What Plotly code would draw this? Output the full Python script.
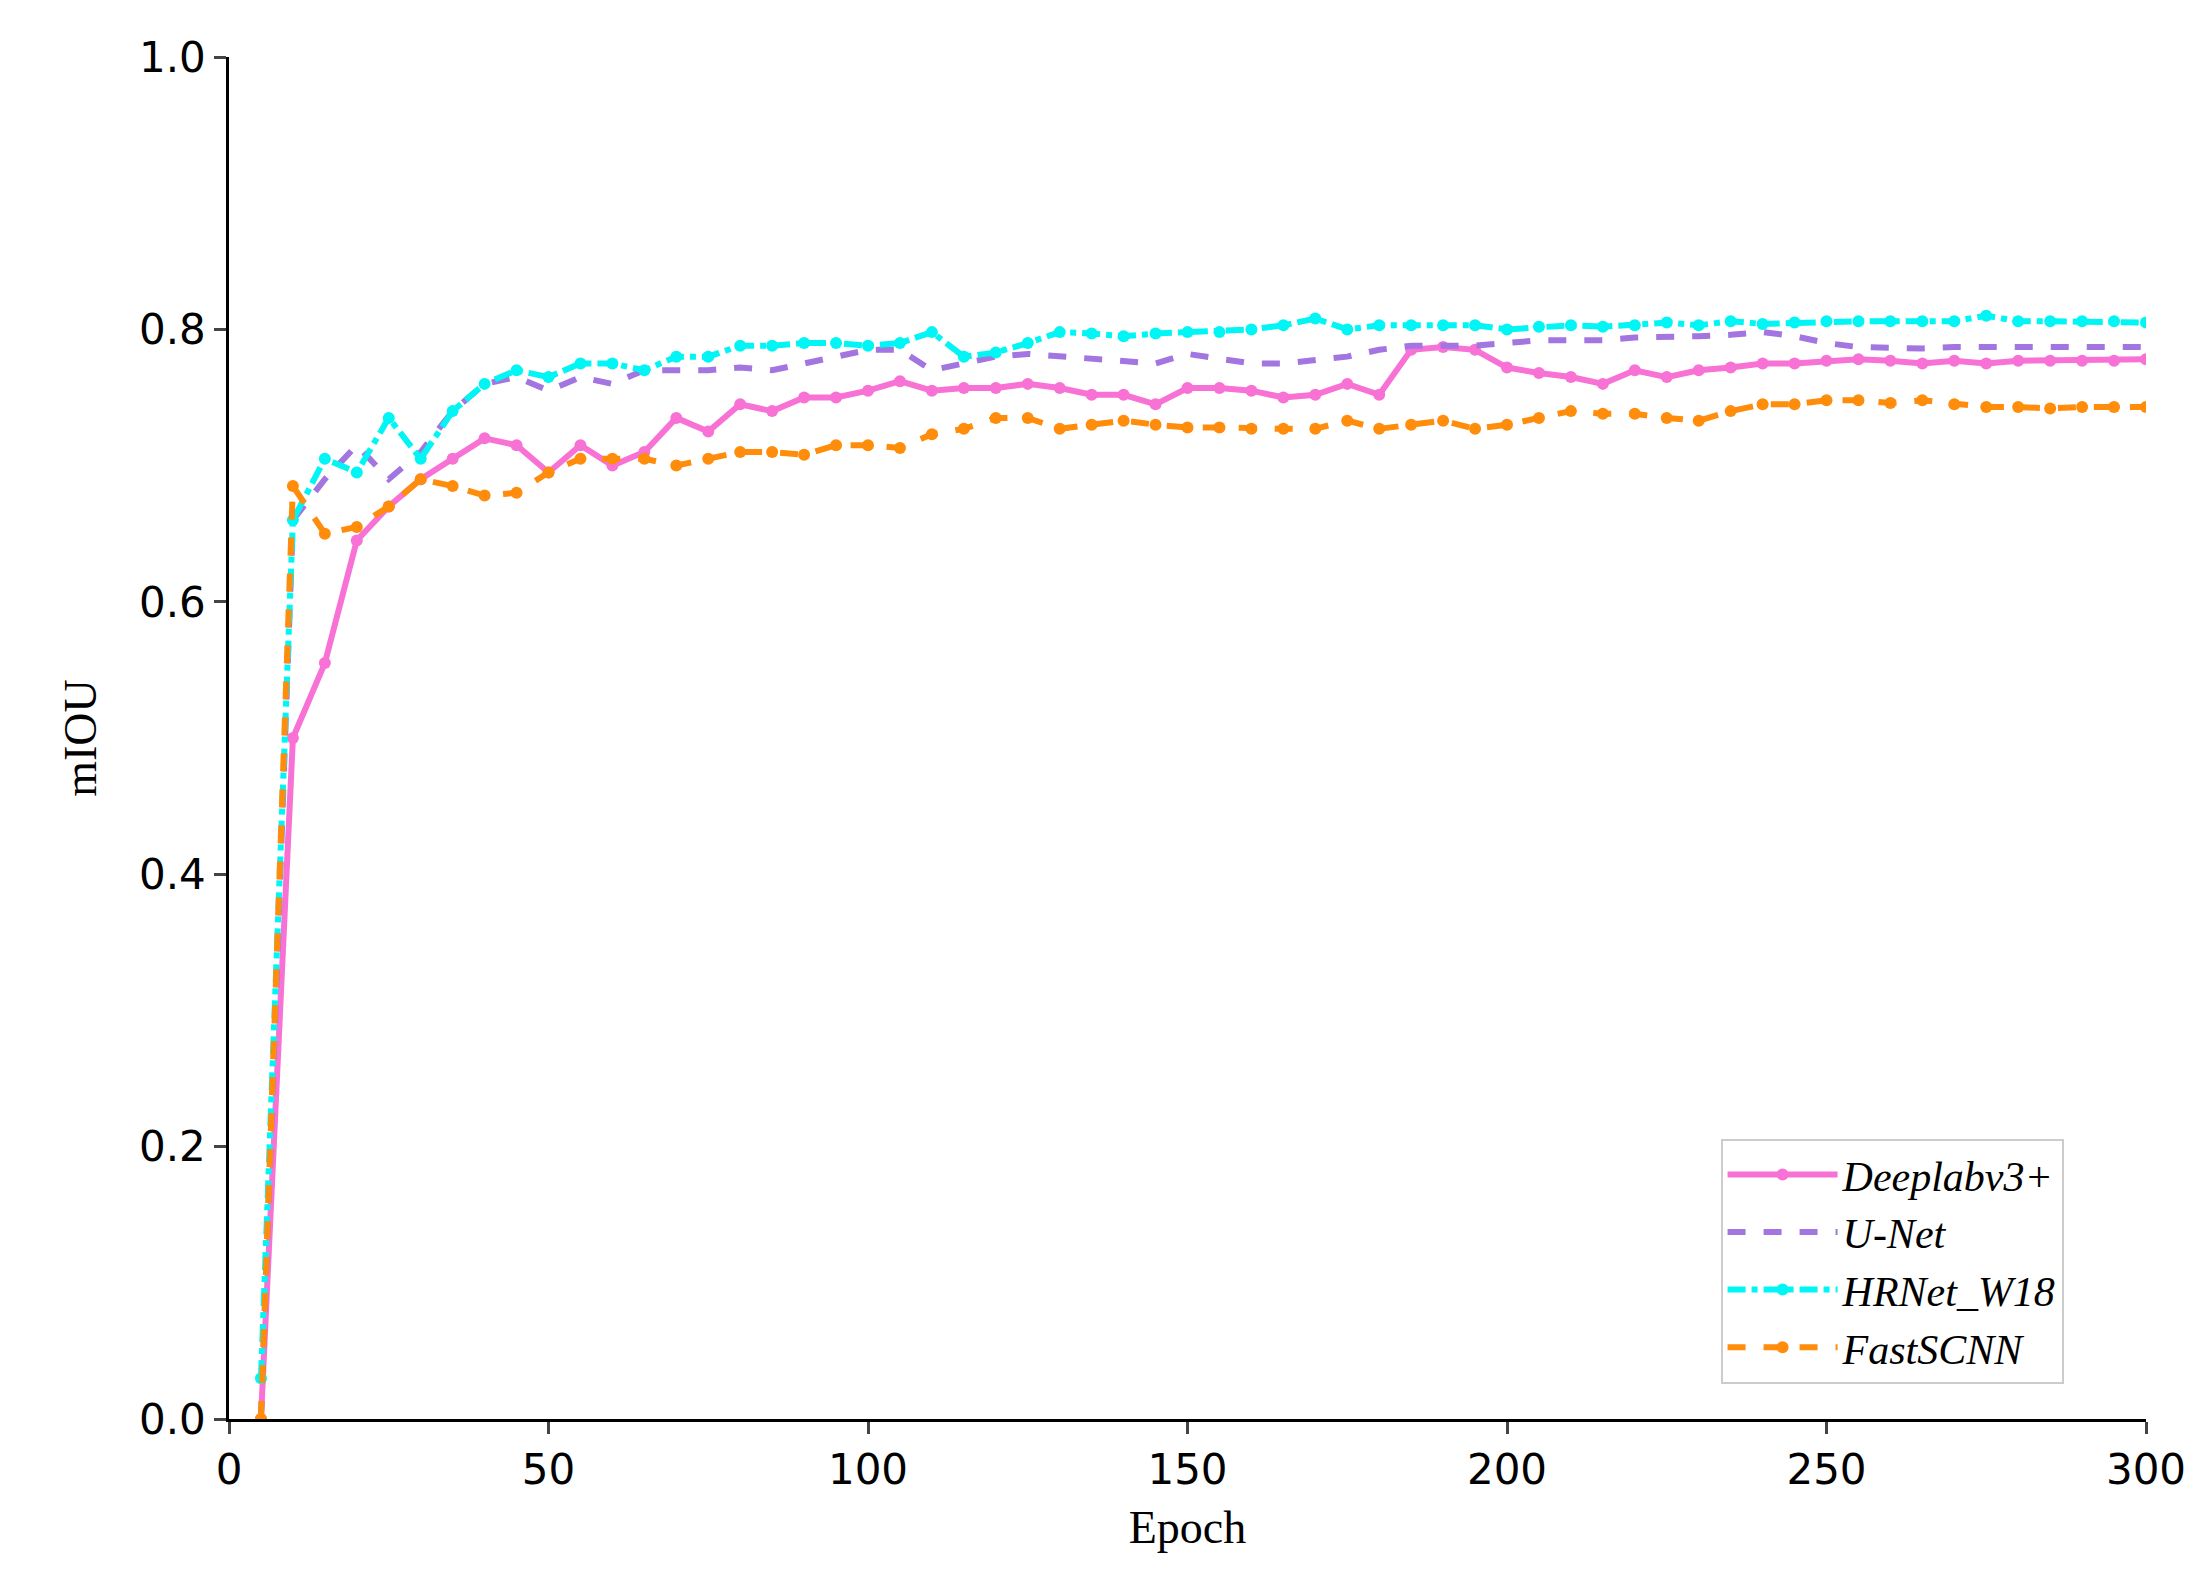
import plotly.graph_objects as go

epochs = list(range(5, 301, 5))

deeplab = [0.0, 0.50, 0.555, 0.645, 0.67, 0.69, 0.705, 0.72, 0.715, 0.695,
           0.715, 0.70, 0.71, 0.735, 0.725, 0.745, 0.74, 0.75, 0.75, 0.755,
           0.762, 0.755, 0.757, 0.757, 0.76, 0.757, 0.752, 0.752, 0.745, 0.757,
           0.757, 0.755, 0.75, 0.752, 0.76, 0.752, 0.785, 0.787, 0.785, 0.772,
           0.768, 0.765, 0.76, 0.77, 0.765, 0.77, 0.772, 0.775, 0.775, 0.777,
           0.778, 0.777, 0.775, 0.777, 0.775, 0.777, 0.777, 0.777, 0.777, 0.778]

unet = [0.0, 0.66, 0.69, 0.715, 0.69, 0.71, 0.74, 0.76, 0.765, 0.755,
        0.765, 0.76, 0.77, 0.77, 0.77, 0.772, 0.77, 0.775, 0.78, 0.785,
        0.785, 0.77, 0.775, 0.78, 0.782, 0.78, 0.778, 0.776, 0.775, 0.782,
        0.778, 0.775, 0.775, 0.778, 0.78, 0.785, 0.788, 0.788, 0.788, 0.79,
        0.792, 0.792, 0.792, 0.794, 0.794, 0.795, 0.796, 0.798, 0.795, 0.79,
        0.787, 0.786, 0.786, 0.787, 0.787, 0.787, 0.787, 0.787, 0.786, 0.787]

hrnet = [0.03, 0.66, 0.705, 0.695, 0.735, 0.705, 0.74, 0.76, 0.77, 0.765,
         0.775, 0.775, 0.77, 0.78, 0.78, 0.788, 0.788, 0.79, 0.79, 0.788,
         0.79, 0.798, 0.78, 0.783, 0.79, 0.798, 0.797, 0.795, 0.797, 0.798,
         0.798, 0.8, 0.803, 0.808, 0.8, 0.803, 0.803, 0.803, 0.803, 0.8,
         0.802, 0.803, 0.802, 0.803, 0.805, 0.803, 0.806, 0.804, 0.805, 0.806,
         0.806, 0.806, 0.806, 0.806, 0.81, 0.806, 0.806, 0.806, 0.806, 0.805]

fastscnn = [0.0, 0.685, 0.65, 0.655, 0.67, 0.69, 0.685, 0.678, 0.68, 0.695,
            0.705, 0.705, 0.705, 0.70, 0.705, 0.71, 0.71, 0.708, 0.715, 0.715,
            0.713, 0.723, 0.727, 0.735, 0.735, 0.727, 0.73, 0.733, 0.73, 0.728,
            0.728, 0.727, 0.727, 0.727, 0.733, 0.727, 0.73, 0.733, 0.727, 0.73,
            0.735, 0.74, 0.738, 0.738, 0.735, 0.733, 0.74, 0.745, 0.745, 0.748,
            0.748, 0.746, 0.748, 0.745, 0.743, 0.743, 0.742, 0.743, 0.743, 0.743]

series = [
    ("Deeplabv3+", deeplab, "#f772d4", "solid", True),
    ("U-Net", unet, "#a275e0", "dash", False),
    ("HRNet_W18", hrnet, "#00f5f5", "dashdot", True),
    ("FastSCNN", fastscnn, "#ff8c0a", "dash", True),
]

fig = go.Figure()
for name, ys, color, dash, markers in series:
    fig.add_trace(go.Scatter(
        x=epochs, y=ys, name=name,
        mode="lines+markers" if markers else "lines",
        line=dict(color=color, width=6, dash=dash),
        marker=dict(size=12, color=color),
    ))

axis_common = dict(showgrid=False, zeroline=False, showline=True, linecolor="black",
                   linewidth=2.5, ticks="outside", ticklen=12, tickwidth=2.5,
                   tickfont=dict(family="DejaVu Sans", size=42, color="black"))

fig.update_layout(
    width=2206, height=1581,
    paper_bgcolor="white", plot_bgcolor="white",
    margin=dict(l=221, r=68, t=49, b=170),
    xaxis=dict(range=[0, 300], tickvals=[0, 50, 100, 150, 200, 250, 300],
               title=dict(text="Epoch", font=dict(family="Liberation Serif", size=46, color="black"), standoff=18),
               **axis_common),
    yaxis=dict(range=[0, 1.0], tickvals=[0, 0.2, 0.4, 0.6, 0.8, 1.0], tickformat=".1f",
               title=dict(text="mIOU", font=dict(family="Liberation Serif", size=46, color="black"), standoff=28),
               **axis_common),
    legend=dict(x=0.957, y=0.026, xanchor="right", yanchor="bottom",
                bgcolor="white", bordercolor="#cccccc", borderwidth=2,
                font=dict(family="Liberation Serif", size=42, color="black", style="italic"),
                itemwidth=110, tracegroupgap=22),
    showlegend=True,
)

fig.write_html("out.html")
